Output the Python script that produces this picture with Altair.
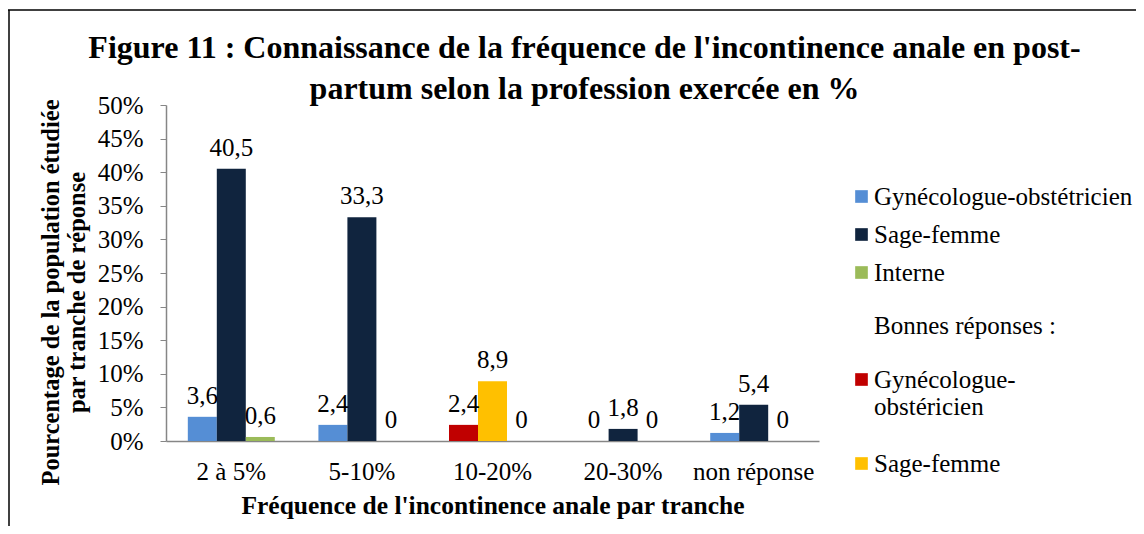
import altair as alt
import pandas as pd

categories = ["2 à 5%", "5-10%", "10-20%", "20-30%", "non réponse"]
professions = ["Gynécologue-obstétricien", "Sage-femme", "Interne"]
gyneco = [3.6, 2.4, 2.4, 0, 1.2]
sage_femme = [40.5, 33.3, 8.9, 1.8, 5.4]
interne = [0.6, 0, 0, 0, 0]
bonne_tranche = "10-20%"
bonnes_noms = ["Gynécologue-obstéricien", "Sage-femme"]
colors = ["#558ED5", "#10243E", "#9BBB59"]
bonnes_colors = ["#C00000", "#FFC000"]
y_ticks = list(range(0, 51, 5))

series = [gyneco, sage_femme, interne]
rows = []
for i, cat in enumerate(categories):
    for j, prof in enumerate(professions):
        v = series[j][i]
        is_bonne = (cat == bonne_tranche and j < 2)
        rows.append({
            "tranche": cat,
            "profession": prof,
            "valeur": v,
            "label": f"{v:g}".replace(".", ","),
            "groupe": "bonne" if is_bonne else "normal",
            "bonne": bonnes_noms[j] if is_bonne else "",
        })
df = pd.DataFrame(rows)

SERIF = "'Liberation Serif', 'Times New Roman', Times, 'DejaVu Serif', serif"

x_enc = alt.X(
    "tranche:N",
    sort=categories,
    scale=alt.Scale(domain=categories, paddingInner=0.334, paddingOuter=0.167),
    axis=alt.Axis(
        title="Fréquence de l'incontinence anale par tranche",
        titleFont=SERIF, titleFontSize=25.5, titleFontWeight="bold", titleColor="black",
        titlePadding=9,
        labelFont=SERIF, labelFontSize=25, labelColor="black", labelAngle=0,
        labelPadding=18, ticks=False, domainColor="#868686", domainWidth=1.5,
        labelLimit=300,
    ),
)
xo_enc = alt.XOffset(
    "profession:N",
    scale=alt.Scale(domain=professions, paddingInner=0, paddingOuter=0),
)
y_enc = alt.Y(
    "valeur:Q",
    scale=alt.Scale(domain=[0, 50], nice=False),
    axis=alt.Axis(
        title=["Pourcentage de la population étudiée", "par tranche de réponse"],
        titleFont=SERIF, titleFontSize=24.5, titleFontWeight="bold", titleColor="black",
        titleAngle=-90, titleX=-115, titleY=187, titleBaseline="middle",
        titleAlign="center", titleLineHeight=26,
        values=y_ticks, labelExpr="datum.value + '%'",
        labelFont=SERIF, labelFontSize=25, labelColor="black", labelPadding=17,
        tickColor="#868686", tickSize=6, domainColor="#868686", domainWidth=1.5,
        grid=False,
    ),
)

bars_a = alt.Chart(df).transform_filter(alt.datum.groupe == "normal").mark_bar().encode(
    x=x_enc, xOffset=xo_enc, y=y_enc,
    color=alt.Color(
        "profession:N",
        scale=alt.Scale(domain=professions, range=colors),
        legend=alt.Legend(
            title=None, orient="none", legendX=683, legendY=79,
            symbolType="square", symbolSize=160, symbolStrokeWidth=0,
            labelFont=SERIF, labelFontSize=25, labelColor="black",
            labelOffset=0, rowPadding=12, padding=0, labelLimit=400,
        ),
    ),
)

bars_b = alt.Chart(df).transform_filter(alt.datum.groupe == "bonne").mark_bar().encode(
    x=x_enc, xOffset=xo_enc, y=y_enc,
    color=alt.Color(
        "bonne:N",
        scale=alt.Scale(domain=bonnes_noms, range=bonnes_colors),
        legend=alt.Legend(
            title="\u200b\u00a0\u00a0\u00a0\u00a0Bonnes réponses :",
            titleFont=SERIF, titleFontSize=25, titleFontWeight="normal", titleColor="black",
            titlePadding=28, titleLimit=400,
            orient="none", legendX=683, legendY=209,
            symbolType="square", symbolSize=160, symbolStrokeWidth=0,
            labelFont=SERIF, labelFontSize=25, labelColor="black",
            labelOffset=0, rowPadding=31, padding=0, labelLimit=400,
            labelExpr="datum.label == 'Gynécologue-obstéricien' ? ['Gynécologue-', 'obstéricien'] : datum.label",
        ),
    ),
)

labels = alt.Chart(df).mark_text(
    font=SERIF, fontSize=25, color="black", baseline="middle", dy=-21
).encode(x=x_enc, xOffset=xo_enc, y=y_enc, text="label:N")

frame_df = pd.DataFrame({"k": [0]})
frame_top = alt.Chart(frame_df).mark_rule(color="black", strokeWidth=1.5).encode(
    x=alt.value(-158), x2=alt.value(970), y=alt.value(-95)
)
frame_left = alt.Chart(frame_df).mark_rule(color="black", strokeWidth=1.5).encode(
    x=alt.value(-157), y=alt.value(-95), y2=alt.value(425)
)

chart = alt.layer(bars_a, bars_b, labels, frame_top, frame_left).resolve_scale(
    color="independent"
).properties(
    width=653,
    height=336,
    padding={"left": 158, "top": 97, "right": 317, "bottom": 85},
    autosize="none",
    background="white",
    title=alt.TitleParams(
        ["Figure 11 : Connaissance de la fréquence de l'incontinence anale en post-",
         "partum selon la profession exercée en %"],
        font=SERIF, fontSize=32, fontWeight="bold", color="black",
        anchor="middle", dx=92, lineHeight=41, offset=-97,
    ),
).configure_view(stroke=None)

chart.save("out.html", embed_options={"renderer": "svg", "actions": False})
